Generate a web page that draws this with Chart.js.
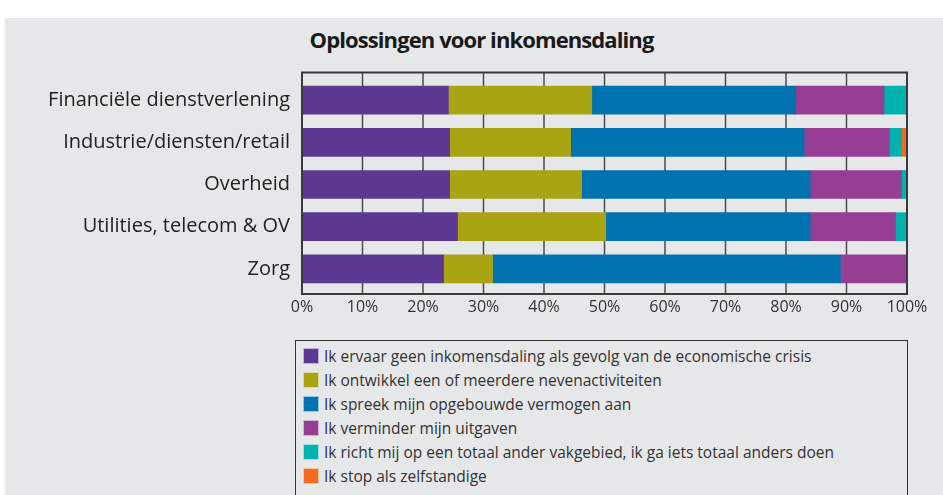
<!DOCTYPE html>
<html>
<head>
<meta charset="utf-8">
<script src="https://cdn.jsdelivr.net/npm/chart.js@4.4.0/dist/chart.umd.min.js"></script>
<style>
  html, body { margin: 0; padding: 0; background: #fff; }
  #wrap { position: relative; width: 943px; height: 495px; overflow: hidden; }
  #panel { position: absolute; left: 5px; top: 18px; width: 938px; height: 477px; background: #e6e7e8; }
  #title { position: absolute; left: 0; top: 24px; width: 963px; text-align: center;
           font-family: "Open Sans", sans-serif; font-weight: bold;
           font-size: 22px; color: #1a1a1a; letter-spacing: -0.9px; }
  #chartBox { position: absolute; left: 0; top: 0; width: 943px; height: 330px; }
  #legend { position: absolute; left: 295px; top: 340px; width: 613px; height: 200px;
            border: 1.5px solid #333; box-sizing: border-box; padding-top: 3px; }
  .item { height: 24px; display: flex; align-items: center; font-family: "Open Sans", sans-serif;
          font-size: 15.5px; color: #333; }
  .sw { width: 14px; height: 14px; margin-left: 7px; margin-right: 5px; border: 1px solid rgba(255,255,255,0.6); }
</style>
</head>
<body>
<div id="wrap">
  <div id="panel"></div>
  <div id="title">Oplossingen voor inkomensdaling</div>
  <div id="chartBox"><canvas id="c"></canvas></div>
  <div id="legend"></div>
</div>
<script>
const categories = ['Financiële dienstverlening', 'Industrie/diensten/retail', 'Overheid', 'Utilities, telecom & OV', 'Zorg'];
const geenDaling = [24.2, 24.4, 24.4, 25.7, 23.4];
const nevenActiviteiten = [23.7, 20.0, 21.8, 24.5, 8.1];
const vermogenAan = [33.7, 38.6, 37.8, 33.8, 57.5];
const minderUitgaven = [14.6, 14.1, 15.1, 14.1, 11.0];
const anderVakgebied = [3.8, 2.0, 0.9, 1.9, 0];
const stopZelfstandige = [0, 0.9, 0, 0, 0];
const tickValues = [0, 10, 20, 30, 40, 50, 60, 70, 80, 90, 100];

const seriesLabels = [
  'Ik ervaar geen inkomensdaling als gevolg van de economische crisis',
  'Ik ontwikkel een of meerdere nevenactiviteiten',
  'Ik spreek mijn opgebouwde vermogen aan',
  'Ik verminder mijn uitgaven',
  'Ik richt mij op een totaal ander vakgebied, ik ga iets totaal anders doen',
  'Ik stop als zelfstandige'
];
const seriesData = [geenDaling, nevenActiviteiten, vermogenAan, minderUitgaven, anderVakgebied, stopZelfstandige];
const seriesColors = ['#5c3893', '#a9a413', '#0072b0', '#963d94', '#00b2ae', '#f26b21'];

// frame + vertical grid lines, a bit taller than the category band
const framePlugin = {
  id: 'frame',
  beforeDatasetsDraw(chart) {
    const { ctx, chartArea: a, scales: { x } } = chart;
    const top = a.top - 6.5, bottom = a.bottom + 4;
    ctx.save();
    ctx.strokeStyle = '#4a4a4a';
    ctx.lineWidth = 1.5;
    tickValues.forEach(v => {
      const px = x.getPixelForValue(v);
      ctx.beginPath(); ctx.moveTo(px, top); ctx.lineTo(px, bottom); ctx.stroke();
    });
    ctx.restore();
  },
  afterDatasetsDraw(chart) {
    const { ctx, chartArea: a } = chart;
    ctx.save();
    ctx.strokeStyle = '#3a3a3a';
    ctx.lineWidth = 2;
    ctx.strokeRect(a.left, a.top - 6.5, a.right - a.left, a.bottom - a.top + 10.5);
    ctx.restore();
  }
};

new Chart(document.getElementById('c'), {
  type: 'bar',
  data: {
    labels: categories,
    datasets: seriesData.map((d, i) => ({
      label: seriesLabels[i],
      data: d,
      backgroundColor: seriesColors[i],
      barThickness: 28,
      borderWidth: 0
    }))
  },
  options: {
    indexAxis: 'y',
    responsive: true,
    maintainAspectRatio: false,
    animation: false,
    layout: { padding: { left: 0, right: 36, top: 79, bottom: 0 } },
    plugins: { legend: { display: false }, tooltip: { enabled: false }, title: { display: false } },
    scales: {
      x: {
        stacked: true, min: 0, max: 100,
        grid: { display: false, drawTicks: false },
        border: { display: false },
        afterBuildTicks: s => { s.ticks = tickValues.map(v => ({ value: v })); },
        afterFit: s => { s.height = 40; },
        ticks: { callback: v => v + '%', padding: 8, color: '#333', autoSkip: false, maxRotation: 0,
                 font: { family: 'Open Sans', size: 16 } }
      },
      y: {
        stacked: true,
        grid: { display: false, drawTicks: false },
        border: { display: false },
        afterFit: s => { s.width = 302; },
        ticks: { padding: 12, color: '#222', font: { family: 'Open Sans', size: 20 } }
      }
    }
  },
  plugins: [framePlugin]
});

// legend as a boxed list
const legend = document.getElementById('legend');
seriesLabels.forEach((lab, i) => {
  const row = document.createElement('div');
  row.className = 'item';
  row.innerHTML = `<span class="sw" style="background:${seriesColors[i]}"></span><span>${lab}</span>`;
  legend.appendChild(row);
});
</script>
</body>
</html>
